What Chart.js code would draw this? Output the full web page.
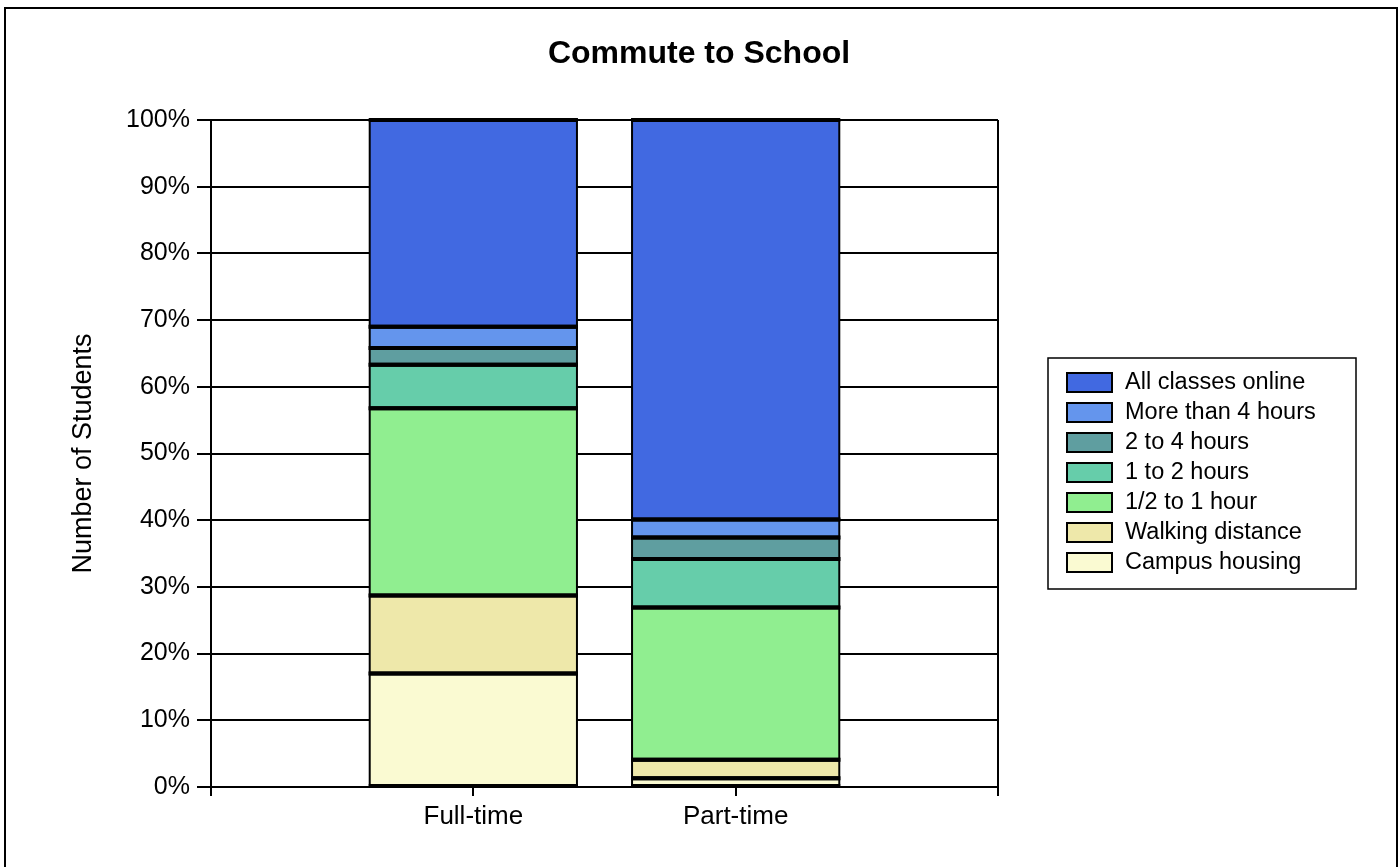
<!DOCTYPE html>
<html>
<head>
<meta charset="utf-8">
<title>Commute to School</title>
<script src="https://cdn.jsdelivr.net/npm/chart.js@4/dist/chart.umd.min.js"></script>
<style>
    html, body {
        margin: 0;
        padding: 0;
        background: #fff;
        overflow: hidden;
    }
    #frame {
        position: absolute;
        left: 4px;
        top: 7px;
        width: 1390px;
        height: 900px;
        border: 2px solid #000;
    }
    #chart-wrap {
        position: absolute;
        left: 0;
        top: 0;
        width: 1398px;
        height: 867px;
    }
</style>
</head>
<body>
<div id="frame"></div>
<div id="chart-wrap"><canvas id="commuteChart"></canvas></div>
<script>
// Categories along the x axis
const categories = ["Full-time", "Part-time"];

// Percent of students per commute type (bottom of stack first)
const campusHousing   = [17.0, 1.3];
const walkingDistance = [11.7, 2.8];
const halfToOneHour   = [28.1, 22.8];
const oneToTwoHours   = [6.5, 7.3];
const twoToFourHours  = [2.5, 3.2];
const moreThanFour    = [3.2, 2.7];
const allOnline       = [31.0, 59.9];

const seriesNames = ["Campus housing", "Walking distance", "1/2 to 1 hour", "1 to 2 hours",
                     "2 to 4 hours", "More than 4 hours", "All classes online"];
const seriesColors = ["#FAFAD2", "#EEE8AA", "#90EE90", "#66CDAA", "#5F9EA0", "#6495ED", "#4169E1"];
const seriesValues = [campusHousing, walkingDistance, halfToOneHour, oneToTwoHours,
                      twoToFourHours, moreThanFour, allOnline];

const yTicks = [0, 10, 20, 30, 40, 50, 60, 70, 80, 90, 100];

const FONT = "'Liberation Sans', Arial, Helvetica, sans-serif";

// Empty slots at both ends so the two bars sit at one and two thirds of the plot width
const axisLabels = ["", ...categories, ""];

const datasets = seriesNames.map((name, i) => ({
    label: name,
    data: [null, ...seriesValues[i], null],
    backgroundColor: seriesColors[i],
    borderWidth: 0,
    inflateAmount: 0
}));

// Outline every stacked segment from the bar elements the library laid out:
// heavy lines across the top and bottom of each segment, thinner ones down the sides
const segmentOutlines = {
    id: "segmentOutlines",
    afterDatasetsDraw(chart) {
        const ctx = chart.ctx;
        ctx.save();
        ctx.strokeStyle = "#000";
        chart.getSortedVisibleDatasetMetas().forEach(meta => {
            meta.data.forEach(bar => {
                const { x, y, base, width } = bar.getProps(["x", "y", "base", "width"], true);
                if (!isFinite(y) || !isFinite(base) || y === base) return;
                const left = x - width / 2;
                const right = x + width / 2;
                ctx.lineWidth = 2;
                ctx.beginPath();
                ctx.moveTo(left, y);
                ctx.lineTo(left, base);
                ctx.moveTo(right, y);
                ctx.lineTo(right, base);
                ctx.stroke();
                ctx.lineWidth = 4;
                ctx.beginPath();
                ctx.moveTo(left - 1, y);
                ctx.lineTo(right + 1, y);
                ctx.moveTo(left - 1, base);
                ctx.lineTo(right + 1, base);
                ctx.stroke();
            });
        });
        ctx.restore();
    }
};

// Boxed legend to the right of the plot, drawn top-down (reverse of stack order)
const boxedLegend = {
    id: "boxedLegend",
    afterDraw(chart) {
        const ctx = chart.ctx;
        const area = chart.chartArea;
        const left = area.right + 50;
        const top = 358;
        const width = 308;
        const height = 231;
        ctx.save();
        ctx.strokeStyle = "#000";
        ctx.lineWidth = 1.5;
        ctx.strokeRect(left, top, width, height);
        ctx.font = "23.5px " + FONT;
        ctx.textBaseline = "middle";
        const items = chart.data.datasets.slice().reverse();
        items.forEach((ds, i) => {
            const y = top + 24 + i * 30;
            ctx.fillStyle = ds.backgroundColor;
            ctx.fillRect(left + 19, y - 9, 45, 19);
            ctx.lineWidth = 2;
            ctx.strokeStyle = "#000";
            ctx.strokeRect(left + 19, y - 9, 45, 19);
            ctx.fillStyle = "#000";
            ctx.fillText(ds.label, left + 77, y + 1);
        });
        ctx.restore();
    }
};

function renderCommuteChart() {
    const ctx = document.getElementById("commuteChart").getContext("2d");
    return new Chart(ctx, {
        type: "bar",
        data: {
            labels: axisLabels,
            datasets: datasets
        },
        options: {
            responsive: true,
            maintainAspectRatio: false,
            animation: false,
            devicePixelRatio: 1,
            categoryPercentage: 1,
            barPercentage: 0.79,
            layout: {
                padding: 0
            },
            scales: {
                x: {
                    stacked: true,
                    offset: false,
                    afterFit: scale => { scale.height = 80; },
                    grid: {
                        offset: false,
                        drawOnChartArea: true,
                        color: c => (c.index === axisLabels.length - 1 ? "#000" : "rgba(0,0,0,0)"),
                        lineWidth: 2,
                        tickColor: "#000",
                        tickLength: 9
                    },
                    border: { display: true, color: "#000", width: 2 },
                    ticks: {
                        color: "#000",
                        padding: 5,
                        autoSkip: false,
                        maxRotation: 0,
                        font: { family: FONT, size: 26 }
                    }
                },
                y: {
                    stacked: true,
                    min: 0,
                    max: 100,
                    afterFit: scale => { scale.width = 211; },
                    afterBuildTicks: scale => { scale.ticks = yTicks.map(v => ({ value: v })); },
                    grid: {
                        color: "#000",
                        lineWidth: 2,
                        tickLength: 14
                    },
                    border: { display: true, color: "#000", width: 2 },
                    ticks: {
                        color: "#000",
                        padding: 7,
                        font: { family: FONT, size: 25 },
                        callback: v => v + "%"
                    },
                    title: {
                        display: true,
                        text: "Number of Students",
                        color: "#000",
                        padding: { top: 67, bottom: 0 },
                        font: { family: FONT, size: 27 }
                    }
                },
                // empty right-hand box that keeps room for the legend, so the title stays centred on the page
                legendRoom: {
                    type: "linear",
                    position: "right",
                    afterFit: scale => { scale.width = 400; },
                    grid: { display: false },
                    border: { display: false },
                    ticks: { display: false }
                }
            },
            plugins: {
                title: {
                    display: true,
                    text: "Commute to School",
                    color: "#000",
                    font: { family: FONT, size: 32, weight: "bold" },
                    padding: { top: 35, bottom: 46.6 }
                },
                legend: { display: false },
                tooltip: { enabled: false }
            }
        },
        plugins: [segmentOutlines, boxedLegend]
    });
}

renderCommuteChart();
</script>
</body>
</html>
